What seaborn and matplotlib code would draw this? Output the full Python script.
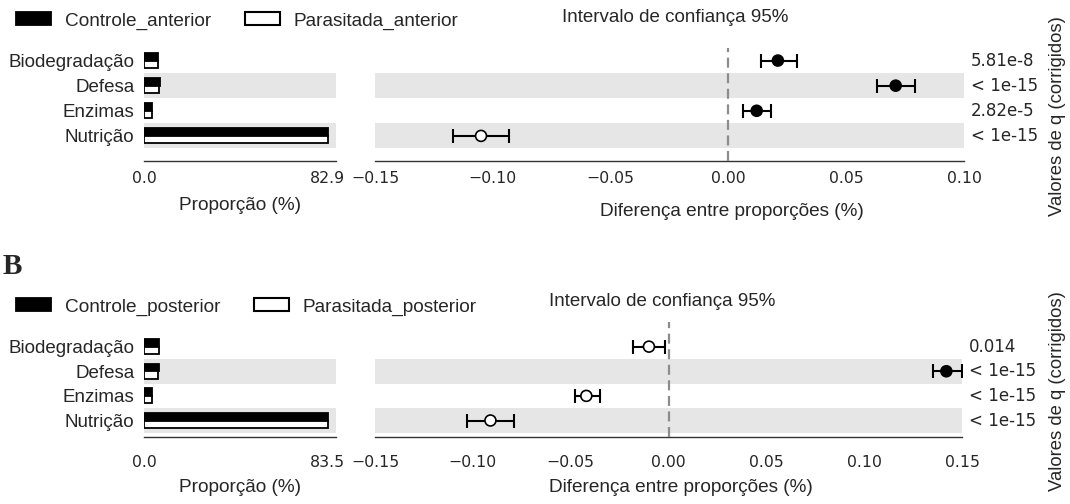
import numpy as np
import pandas as pd
import matplotlib
matplotlib.use("Agg")
import matplotlib.pyplot as plt
import seaborn as sns
from matplotlib.patches import Patch
from matplotlib.transforms import blended_transform_factory

categorias = ["Biodegradação", "Defesa", "Enzimas", "Nutrição"]

# Painel A (anterior)
grupos_a = ["Controle_anterior", "Parasitada_anterior"]
prop_controle_a = [6.4, 7.0, 3.7, 82.8]
prop_parasitada_a = [6.4, 6.9, 3.7, 82.9]
dif_a = [0.021, 0.071, 0.012, -0.105]
ic_inf_a = [0.014, 0.063, 0.006, -0.117]
ic_sup_a = [0.029, 0.079, 0.018, -0.093]
q_a = ["5.81e-8", "< 1e-15", "2.82e-5", "< 1e-15"]
xticks_dif_a = [-0.15, -0.10, -0.05, 0.00, 0.05, 0.10]

# Painel B (posterior)
grupos_b = ["Controle_posterior", "Parasitada_posterior"]
prop_controle_b = [6.8, 6.7, 3.6, 83.4]
prop_parasitada_b = [6.8, 6.5, 3.7, 83.5]
dif_b = [-0.010, 0.142, -0.042, -0.091]
ic_inf_b = [-0.018, 0.135, -0.048, -0.103]
ic_sup_b = [-0.002, 0.150, -0.035, -0.079]
q_b = ["0.014", "< 1e-15", "< 1e-15", "< 1e-15"]
xticks_dif_b = [-0.15, -0.10, -0.05, 0.00, 0.05, 0.10, 0.15]

sns.set_style("white")
plt.rcParams["font.family"] = ["Liberation Sans", "DejaVu Sans"]

W, H = 1070, 504
fig = plt.figure(figsize=(W / 100, H / 100), dpi=100)

BAND = "#e6e6e6"
SPINE = "#333333"


def px_rect(x0, x1, ytop, ybot):
    return [x0 / W, 1 - ybot / H, (x1 - x0) / W, (ybot - ytop) / H]


def painel(ytop, ybot, ylim, dif_x1, grupos, pc, pp, dif, lo, hi, qvals,
           xticks, tick_pad, lab_b_off, lab_d_off, lab_d_x, legend_y,
           title_x, title_y, vlabel_y):
    hpx = ybot - ytop
    ax_b = fig.add_axes(px_rect(144, 336, ytop, ybot))
    ax_d = fig.add_axes(px_rect(375, dif_x1, ytop, ybot))

    df = pd.DataFrame({
        "categoria": categorias * 2,
        "grupo": [grupos[0]] * len(categorias) + [grupos[1]] * len(categorias),
        "proporcao": list(pc) + list(pp),
    })
    sns.barplot(data=df, y="categoria", x="proporcao", hue="grupo",
                order=categorias, hue_order=grupos,
                palette={grupos[0]: "black", grupos[1]: "white"},
                edgecolor="black", linewidth=1.3, width=0.6, orient="h",
                errorbar=None, legend=False, ax=ax_b)

    df_d = pd.DataFrame({"categoria": categorias, "dif": dif, "lo": lo, "hi": hi})
    df_d["sinal"] = np.where(df_d["dif"] > 0, grupos[0], grupos[1])
    sns.scatterplot(data=df_d, x="dif", y="categoria", hue="sinal",
                    palette={grupos[0]: "black", grupos[1]: "white"},
                    edgecolor="black", linewidth=1.2, s=62, legend=False,
                    ax=ax_d, zorder=5)
    ax_d.errorbar(df_d["dif"], df_d["categoria"],
                  xerr=[df_d["dif"] - df_d["lo"], df_d["hi"] - df_d["dif"]],
                  fmt="none", ecolor="black", elinewidth=1.5, capsize=4.7,
                  capthick=1.5, zorder=4)

    for ax in (ax_b, ax_d):
        for i in (1, 3):
            ax.axhspan(i - 0.5, i + 0.5, color=BAND, lw=0, zorder=0)
        ax.set_ylim(*ylim)
        for s in ("top", "right", "left"):
            ax.spines[s].set_visible(False)
        ax.spines["bottom"].set_color(SPINE)
        ax.spines["bottom"].set_linewidth(1.0)
        ax.tick_params(axis="x", direction="in", length=6, width=1,
                       color=SPINE, pad=tick_pad, labelsize=11.3)
        ax.set_ylabel("")

    pmax = max(max(pc), max(pp))
    ax_b.set_xlim(0, pmax * 1.045)
    ax_b.set_xticks([0, pmax])
    ax_b.set_xticklabels(["0.0", f"{pmax:.1f}"], family="DejaVu Sans", fontsize=11.3)
    ax_b.tick_params(axis="y", length=0, pad=7, labelsize=13.5)
    ax_b.set_xlabel("Proporção (%)", fontsize=13.7, va="center")
    ax_b.xaxis.set_label_coords(0.5, -lab_b_off / hpx)

    ax_d.set_xlim(xticks[0], xticks[-1])
    ax_d.set_xticks(xticks)
    for t in ax_d.get_xticklabels():
        t.set_family("DejaVu Sans")
    ax_d.set_yticks([])
    ax_d.axvline(0, color="#8c8c8c", lw=1.6, ls=(0, (4.5, 2.5)), zorder=3)
    ax_d.set_xlabel("Diferença entre proporções (%)", fontsize=13.7, va="center")
    ax_d.xaxis.set_label_coords(lab_d_x, -lab_d_off / hpx)

    tr = blended_transform_factory(ax_d.transAxes, ax_d.transData)
    for cat, q in zip(categorias, qvals):
        ax_d.text(1.012, ax_d.yaxis.convert_units(cat), q, transform=tr,
                  ha="left", va="center", fontsize=12, family="DejaVu Sans")

    handles = [Patch(facecolor="black", edgecolor="black", lw=1.3),
               Patch(facecolor="white", edgecolor="black", lw=1.5)]
    fig.legend(handles, grupos, loc="center left",
               bbox_to_anchor=(16 / W, 1 - legend_y / H), ncol=2,
               frameon=False, fontsize=13.7, handlelength=1.85,
               handleheight=0.65, handletextpad=0.7, columnspacing=1.8,
               borderpad=0, borderaxespad=0)

    fig.text(title_x / W, 1 - title_y / H,
             "Intervalo de confiança 95%", ha="center", va="center", fontsize=13.5)
    fig.text(1057 / W, 1 - vlabel_y / H, "Valores de q (corrigidos)",
             rotation=90, ha="center", va="center", fontsize=13.3)
    return ax_b, ax_d


painel(48, 161, (4.0, -0.5), 964, grupos_a, prop_controle_a, prop_parasitada_a,
       dif_a, ic_inf_a, ic_sup_a, q_a, xticks_dif_a, 7.4, 44, 50, 0.606,
       21, 675, 18, 116)
painel(322, 437, (3.67, -1.0), 962, grupos_b, prop_controle_b, prop_parasitada_b,
       dif_b, ic_inf_b, ic_sup_b, q_b, xticks_dif_b, 13.2, 51, 50, 0.521,
       307, 662, 302, 391)

fig.text(3 / W, 1 - 266 / H, "B", fontsize=21, fontweight="bold",
         family="Liberation Serif", ha="left", va="center")

fig.savefig("out.png", dpi=100)
